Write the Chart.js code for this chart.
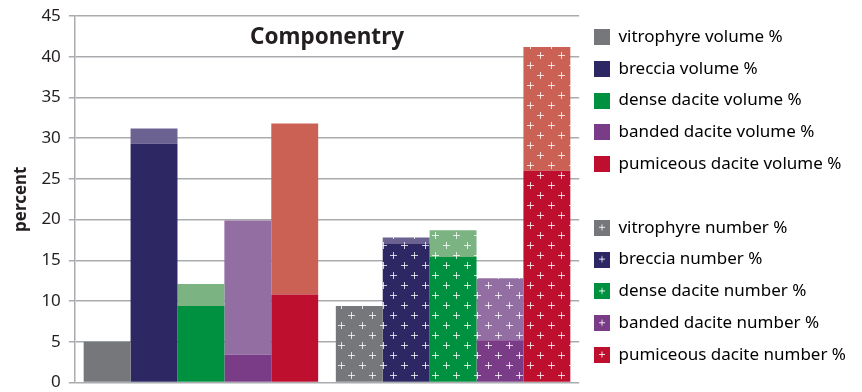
<!DOCTYPE html>
<html>
<head>
<meta charset="utf-8">
<script src="https://cdn.jsdelivr.net/npm/chart.js@4"></script>
<style>
  html, body { margin: 0; padding: 0; background: #fff; }
  #wrap { width: 862px; height: 392px; }
</style>
</head>
<body>
<div id="wrap"><canvas id="myChart"></canvas></div>
<script>
// values
const groups = ['volume', 'number'];
const materials = ['vitrophyre', 'breccia', 'dense dacite', 'banded dacite', 'pumiceous dacite'];
const volumeLow  = [5.0, 29.3, 9.4, 3.4, 10.8];
const volumeHigh = [5.0, 31.2, 12.1, 19.9, 31.8];
const numberLow  = [9.4, 17.0, 15.4, 5.2, 26.0];
const numberHigh = [9.4, 17.8, 18.7, 12.8, 41.2];
const yTicks = [0, 5, 10, 15, 20, 25, 30, 35, 40, 45];

const darkColors  = ['#76777a', '#2d2763', '#009140', '#7a3b87', '#be0f2e'];
const lightColors = ['#76777a', '#6b6291', '#7bb383', '#936ea2', '#cb6154'];
const textColor = '#231f20';
const gridColor = '#a9abae';
const FONT = '"Noto Sans", sans-serif';

// plus-sign fill for the "number %" bars
function plusPattern(color) {
  const c = document.createElement('canvas');
  c.width = 21; c.height = 20;
  const g = c.getContext('2d');
  g.fillStyle = color;
  g.fillRect(0, 0, 21, 20);
  g.fillStyle = 'rgba(255,255,255,0.78)';
  [[5, 5], [15, 15]].forEach(([x, y]) => {
    g.fillRect(x - 3, y, 7, 1);
    g.fillRect(x, y - 3, 1, 7);
  });
  return g.createPattern(c, 'repeat');
}

function swatch(color, plus) {
  const c = document.createElement('canvas');
  c.width = 16; c.height = 16;
  const g = c.getContext('2d');
  g.fillStyle = color;
  g.fillRect(0, 0, 16, 16);
  if (plus) {
    g.fillStyle = 'rgba(255,255,255,0.85)';
    g.fillRect(5, 7, 6, 1);
    g.fillRect(7.5, 4.5, 1, 6);
  }
  return c;
}

const datasets = [];
materials.forEach((m, i) => {
  datasets.push({
    label: m + ' volume %',
    data: [volumeLow[i], null],
    backgroundColor: darkColors[i],
    stack: 's' + i
  });
  datasets.push({
    label: m + ' number %',
    data: [null, numberLow[i]],
    backgroundColor: plusPattern(darkColors[i]),
    stack: 's' + i
  });
  datasets.push({
    label: m + ' range',
    data: [volumeHigh[i] - volumeLow[i], numberHigh[i] - numberLow[i]],
    backgroundColor: [lightColors[i], plusPattern(lightColors[i])],
    stack: 's' + i
  });
});

const titleInside = {
  id: 'titleInside',
  afterDraw(chart) {
    const { ctx, chartArea } = chart;
    ctx.save();
    ctx.font = 'bold 22.5px ' + FONT;
    ctx.fillStyle = textColor;
    ctx.textAlign = 'center';
    ctx.textBaseline = 'middle';
    ctx.fillText('Componentry', (chartArea.left + chartArea.right) / 2, chartArea.top + 21.5);
    ctx.restore();
  }
};

new Chart(document.getElementById('myChart'), {
  type: 'bar',
  data: { labels: groups, datasets: datasets },
  plugins: [titleInside],
  options: {
    responsive: true,
    maintainAspectRatio: false,
    animation: false,
    layout: { padding: { left: 11, right: 6, top: 0, bottom: 0 } },
    datasets: { bar: { categoryPercentage: 0.93, barPercentage: 1.0 } },
    plugins: {
      tooltip: { enabled: false },
      legend: {
        position: 'right',
        maxWidth: 320,
        labels: {
          usePointStyle: true,
          boxWidth: 16,
          boxHeight: 16,
          padding: 14.8,
          color: textColor,
          font: { family: FONT, size: 17 },
          generateLabels() {
            const items = [];
            materials.forEach((m, i) => items.push({
              text: m + ' volume %', pointStyle: swatch(darkColors[i], false),
              fillStyle: darkColors[i], strokeStyle: 'transparent', lineWidth: 0, datasetIndex: i * 3
            }));
            items.push({ text: '', pointStyle: swatch('#ffffff', false), fillStyle: '#fff',
              strokeStyle: 'transparent', lineWidth: 0 });
            materials.forEach((m, i) => items.push({
              text: m + ' number %', pointStyle: swatch(darkColors[i], true),
              fillStyle: darkColors[i], strokeStyle: 'transparent', lineWidth: 0, datasetIndex: i * 3 + 1
            }));
            return items;
          }
        }
      }
    },
    scales: {
      x: {
        display: false,
        stacked: true
      },
      y: {
        stacked: true,
        min: 0,
        max: 45,
        afterBuildTicks(scale) { scale.ticks = yTicks.map(v => ({ value: v })); },
        afterFit(scale) {
          scale.paddingTop = 16;
          scale.paddingBottom = 9.5;
        },
        title: {
          display: true,
          text: 'percent',
          color: textColor,
          font: { family: FONT, size: 17, weight: 'bold' },
          padding: { top: 0, bottom: 2 }
        },
        ticks: {
          color: textColor,
          font: { family: FONT, size: 17 },
          padding: 8
        },
        grid: {
          color: gridColor,
          lineWidth: 1.5,
          tickLength: 6
        },
        border: { color: gridColor, width: 1.5 }
      }
    }
  }
});
</script>
</body>
</html>
